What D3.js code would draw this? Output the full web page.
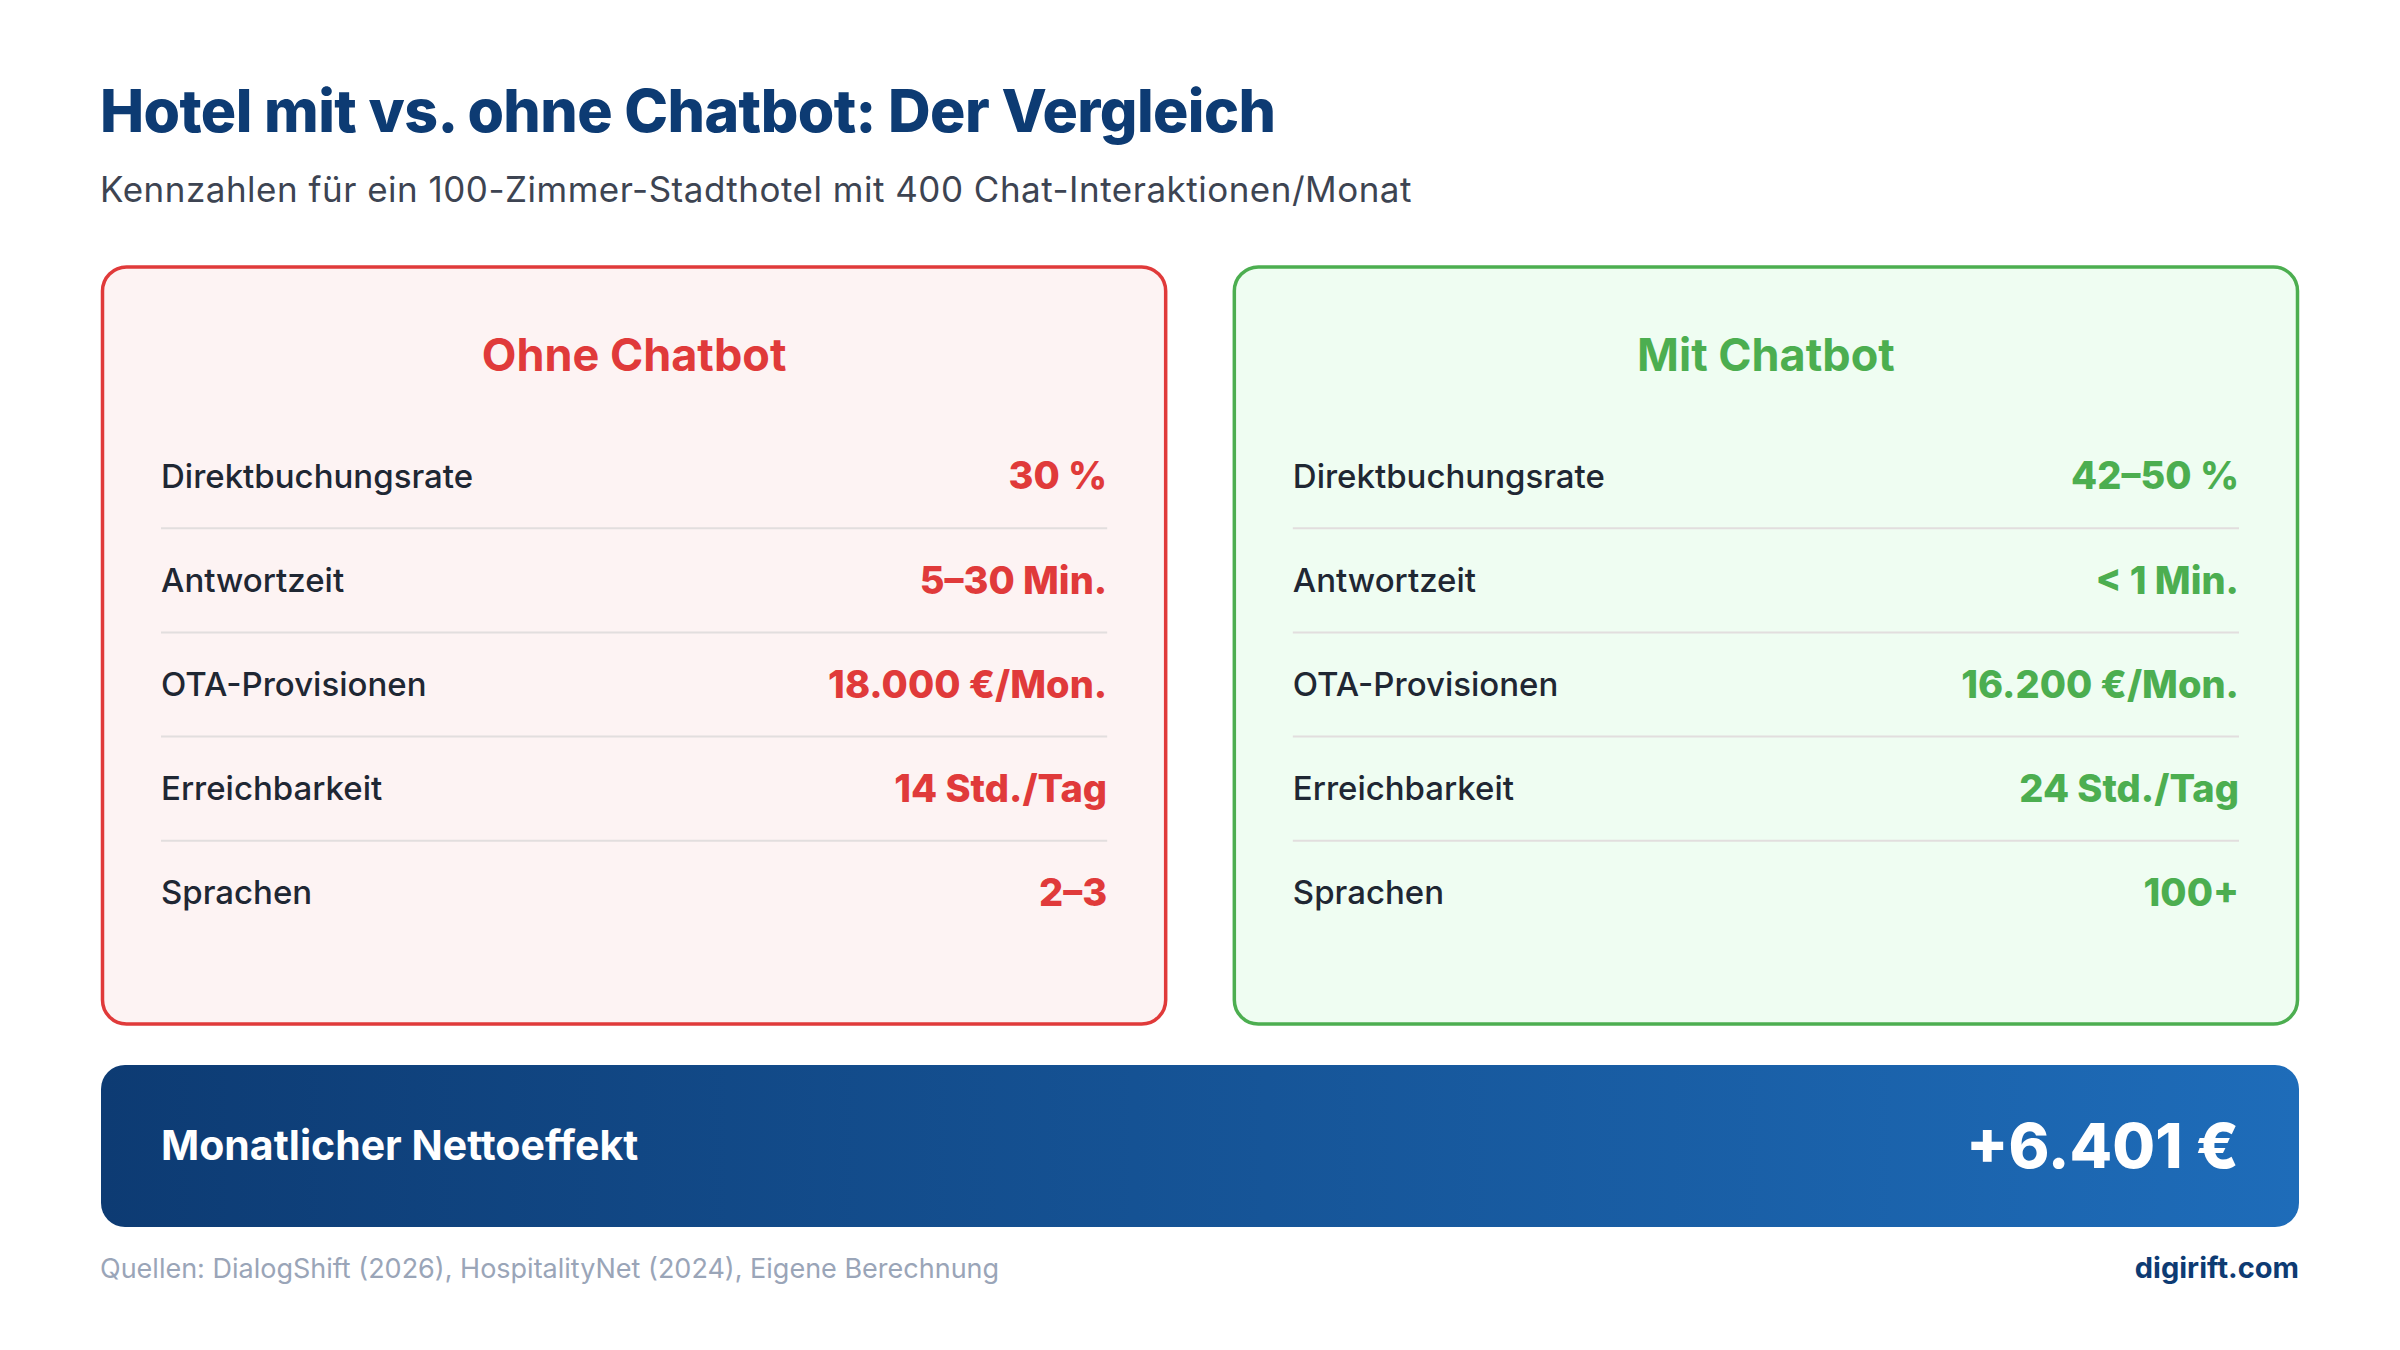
<!DOCTYPE html>
<html><head><meta charset="utf-8">
<script src="https://cdn.jsdelivr.net/npm/d3@7"></script>
<style>body{margin:0;background:#fff}svg{display:block}text{font-family:Inter,"Open Sans",sans-serif}</style>
</head><body>
<script>
const metrics = ["Direktbuchungsrate","Antwortzeit","OTA-Provisionen","Erreichbarkeit","Sprachen"];
const ohneValues = ["30 %","5–30 Min.","18.000 €/Mon.","14 Std./Tag","2–3"];
const mitValues = ["42–50 %","< 1 Min.","16.200 €/Mon.","24 Std./Tag","100+"];
const panels = [
  {title:"Ohne Chatbot", values: ohneValues, color:"#e03a3a", fill:"#fdf3f3"},
  {title:"Mit Chatbot", values: mitValues, color:"#4cae50", fill:"#effdf2"}
];
const netLabel = "Monatlicher Nettoeffekt", netValue = "+6.401 €";

const W=2400,H=1350;
const svg=d3.select("body").append("svg").attr("width",W).attr("height",H);
const defs=svg.append("defs");
const g=defs.append("linearGradient").attr("id","gr");
g.append("stop").attr("offset","0%").attr("stop-color","#0d3b73");
g.append("stop").attr("offset","100%").attr("stop-color","#1e6cb9");

svg.append("text").attr("x",100).attr("y",132).attr("font-size",59).attr("font-weight",800).attr("fill","#0d3b73").attr("letter-spacing",-0.6)
  .text("Hotel mit vs. ohne Chatbot: Der Vergleich");
svg.append("text").attr("x",100).attr("y",202).attr("font-size",35).attr("fill","#3d4452").attr("letter-spacing",0.5)
  .text("Kennzahlen für ein 100-Zimmer-Stadthotel mit 400 Chat-Interaktionen/Monat");

const px=d3.scaleBand().domain(panels.map(p=>p.title)).range([101,2299]).paddingInner(0.058);
const ry=d3.scaleBand().domain(metrics).range([424,945]);

panels.forEach(p=>{
  const x0=px(p.title), w=px.bandwidth();
  const gg=svg.append("g");
  gg.append("rect").attr("x",x0+1.5).attr("y",267).attr("width",w-3).attr("height",757).attr("rx",24)
    .attr("fill",p.fill).attr("stroke",p.color).attr("stroke-width",3.5);
  gg.append("text").attr("x",x0+w/2).attr("y",371).attr("text-anchor","middle").attr("font-size",45).attr("font-weight",700).attr("fill",p.color).text(p.title);
  const lx=x0+60, rx=x0+w-60;
  metrics.forEach((m,i)=>{
    const cy=ry(m)+ry.bandwidth()/2;
    gg.append("text").attr("x",lx).attr("y",cy).attr("dy","0.35em").attr("font-size",33).attr("font-weight",500).attr("fill","#1f2733").text(m);
    gg.append("text").attr("x",rx).attr("y",cy).attr("dy","0.35em").attr("text-anchor","end").attr("font-size",38).attr("font-weight",800).attr("fill",p.color).text(p.values[i]);
    if(i<metrics.length-1) gg.append("line").attr("x1",lx).attr("x2",rx).attr("y1",ry(m)+ry.bandwidth()).attr("y2",ry(m)+ry.bandwidth()).attr("stroke","#e2dede").attr("stroke-width",2);
  });
});

svg.append("rect").attr("x",101).attr("y",1065).attr("width",2198).attr("height",162).attr("rx",24).attr("fill","url(#gr)");
svg.append("text").attr("x",161).attr("y",1146).attr("dy","0.35em").attr("font-size",41).attr("font-weight",700).attr("fill","#fff").text(netLabel);
svg.append("text").attr("x",2239).attr("y",1146).attr("dy","0.35em").attr("text-anchor","end").attr("font-size",62).attr("font-weight",800).attr("fill","#fff").text(netValue);

svg.append("text").attr("x",100).attr("y",1278).attr("font-size",27).attr("fill","#9aa5b8").text("Quellen: DialogShift (2026), HospitalityNet (2024), Eigene Berechnung");
svg.append("text").attr("x",2299).attr("y",1278).attr("text-anchor","end").attr("font-size",29).attr("font-weight",700).attr("fill","#0d3b73").text("digirift.com");
</script>
</body></html>
